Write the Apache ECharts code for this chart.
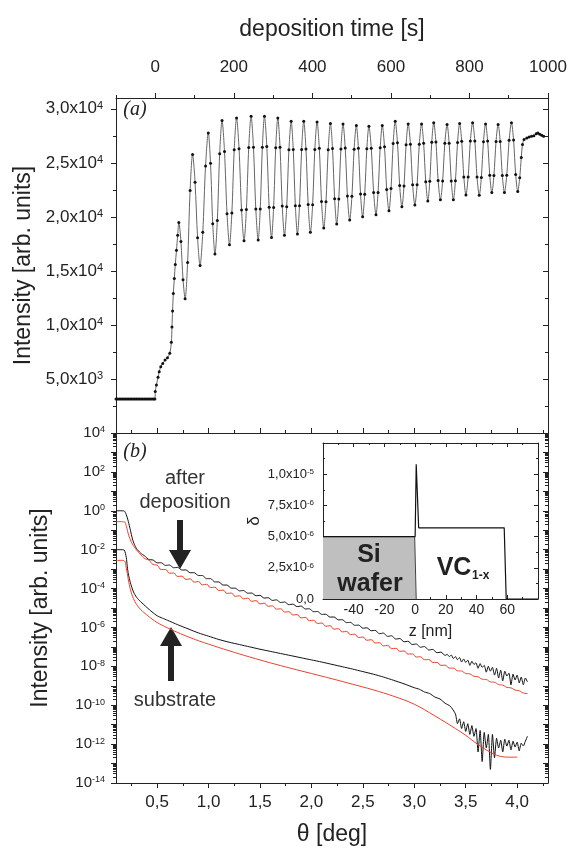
<!DOCTYPE html>
<html>
<head>
<meta charset="utf-8">
<script src="https://cdn.jsdelivr.net/npm/echarts@6/dist/echarts.min.js"></script>
<style>
html, body { margin: 0; padding: 0; background: #fff; }
#chart { width: 571px; height: 850px; }
</style>
</head>
<body>
<div id="chart"></div>
<script>
/***
Data
***/

// (a) intensity vs deposition time [s]
var baselinePts = [[-100,3150],[-96,3150],[-92,3150],[-88,3150],[-84,3150],[-80,3150],[-76,3150],[-72,3150],[-68,3150],[-64,3150],[-60,3150],[-56,3150],[-52,3150],[-48,3150],[-44,3150],[-40,3150],[-36,3150],[-32,3150],[-28,3150],[-24,3150],[-20,3150],[-16,3150],[-12,3150],[-8,3150],[-4,3150],[-1,3150]];
var onsetPts = [[0,3830],[3,4450],[7,5160],[10,5670],[14,6130],[19,6440],[25,6750],[31,6960],[37,7370],[41,8400],[42.5,9800],[44,11300],[46,12900],[48.5,14300],[51,15600],[54,16900],[57,18300]];
var oscillationPts = [
  [60,19480],[65.3,17720],[70.7,14190],[76,12430],
  [82.3,15770],[88.7,22440],[95,25780],[101.3,23210],[107.7,18070],[114,15500],
  [121,18570],[128,24700],[135,27770],[140.7,24970],[146.3,19370],[152,16570],
  [158,19660],[164,25830],[170,28910],[176.3,26040],[182.7,20300],[189,17430],
  [195,20360],[201,26220],[207,29150],[213.3,26310],[219.7,20640],[226,17800],
  [232,20680],[238,26430],[244,29310],[250,26450],[256,20730],[262,17870],
  [267.3,20730],[272.7,26450],[278,29310],[284,26510],[290,20900],[296,18100],
  [301.3,20860],[306.7,26390],[312,29150],[317.7,26440],[323.3,21010],[329,18300],
  [334.7,20940],[340.3,26210],[346,28850],[351.3,26240],[356.7,21030],[362,18420],
  [367.3,21030],[372.7,26240],[378,28850],[383.7,26280],[389.3,21140],[395,18570],
  [400.7,21130],[406.3,26240],[412,28790],[417.7,26340],[423.3,21430],[429,18970],
  [434.7,21390],[440.3,26220],[446,28640],[451.3,26320],[456.7,21670],[462,19340],
  [467.3,21660],[472.7,26290],[478,28600],[483.7,26380],[489.3,21930],[495,19710],
  [500.7,21900],[506.3,26260],[512,28450],[517.3,26340],[522.7,22120],[528,20010],
  [533.3,22100],[538.7,26300],[544,28390],[550,26340],[556,22250],[562,20200],
  [567.3,22260],[572.7,26390],[578,28450],[583.7,26480],[589.3,22530],[595,20560],
  [600.3,22630],[605.7,26780],[611,28850],[616.7,26870],[622.3,22910],[628,20930],
  [633.3,22850],[638.7,26680],[644,28600],[649.7,26730],[655.3,22980],[661,21110],
  [666.7,22980],[672.3,26730],[678,28600],[683.3,26820],[688.7,23260],[694,21480],
  [699,23290],[704,26900],[709,28700],[714.7,26920],[720.3,23360],[726,21580],
  [731.7,23320],[737.3,26810],[743,28550],[748.3,26810],[753.7,23320],[759,21580],
  [764.3,23350],[769.7,26880],[775,28640],[780.3,26990],[785.7,23680],[791,22030],
  [796.7,23700],[802.3,27030],[808,28700],[813.7,27030],[819.3,23680],[825,22000],
  [830.3,23650],[835.7,26950],[841,28600],[846.3,27010],[851.7,23840],[857,22250],
  [862.3,23830],[867.7,26980],[873,28550],[878.3,26980],[883.7,23830],[889,22250],
  [895,23860],[901,27090],[907,28700],[912.3,27110],[917.7,23930],[923,22340]
];
var plateauPts = [[928,23630],[932,25500],[935,26700],[939,27160],[946,27310],[952,27400],[958,27450],[964,27500],[970,27700],[974,27770],[979,27650],[984,27560],[989,27460]];

// (b) reflectivity, theta [deg] vs log10(intensity)
var afterMeasured = [
  [0.10,0.00],[0.14,0.00],[0.18,-0.01],[0.20,-0.20],[0.22,-0.55],[0.24,-1.00],[0.26,-1.45],[0.28,-1.75],
  [0.30,-1.95],[0.34,-2.18],[0.38,-2.33],[0.42,-2.51],[0.46,-2.53],[0.50,-2.68],[0.54,-2.67],[0.58,-2.81],
  [0.62,-2.79],[0.66,-2.93],[0.70,-2.91],[0.74,-3.05],[0.78,-3.04],[0.82,-3.19],[0.86,-3.18],[0.90,-3.33],
  [0.94,-3.33],[0.98,-3.49],[1.02,-3.49],[1.06,-3.66],[1.10,-3.66],[1.14,-3.82],[1.18,-3.82],[1.22,-3.98],
  [1.26,-3.98],[1.30,-4.12],[1.34,-4.10],[1.38,-4.24],[1.42,-4.23],[1.46,-4.37],[1.50,-4.35],[1.54,-4.49],
  [1.58,-4.47],[1.62,-4.61],[1.66,-4.58],[1.70,-4.72],[1.74,-4.69],[1.78,-4.83],[1.82,-4.80],[1.86,-4.93],
  [1.90,-4.90],[1.94,-5.05],[1.98,-5.04],[2.02,-5.19],[2.06,-5.18],[2.10,-5.33],[2.14,-5.32],[2.18,-5.47],
  [2.22,-5.46],[2.26,-5.61],[2.30,-5.60],[2.34,-5.75],[2.38,-5.74],[2.42,-5.89],[2.46,-5.88],[2.50,-6.04],
  [2.54,-6.02],[2.58,-6.17],[2.62,-6.15],[2.66,-6.32],[2.70,-6.29],[2.74,-6.46],[2.78,-6.43],[2.82,-6.60],
  [2.86,-6.57],[2.90,-6.74],[2.94,-6.71],[2.98,-6.88],[3.02,-6.85],[3.06,-7.02],[3.10,-6.98],[3.14,-7.16],
  [3.18,-7.13],[3.22,-7.30],[3.26,-7.27],[3.30,-7.44],[3.32,-7.38],[3.34,-7.50],[3.36,-7.42],[3.38,-7.60],
  [3.40,-7.50],[3.42,-7.66],[3.44,-7.55],[3.46,-7.78],[3.48,-7.62],[3.50,-7.80],[3.52,-7.68],[3.54,-7.95],
  [3.56,-7.74],[3.58,-7.90],[3.60,-7.82],[3.62,-8.10],[3.64,-7.86],[3.66,-8.05],[3.68,-7.95],[3.70,-8.30],
  [3.72,-8.00],[3.74,-8.25],[3.76,-8.05],[3.78,-8.45],[3.80,-8.10],[3.82,-8.60],[3.84,-8.20],[3.86,-8.75],
  [3.88,-8.25],[3.90,-8.50],[3.92,-8.35],[3.94,-8.95],[3.96,-8.40],[3.98,-8.70],[4.00,-8.45],[4.02,-8.85],
  [4.04,-8.55],[4.06,-8.95],[4.08,-8.60],[4.10,-8.80]
];
var afterFit = [
  [0.10,-0.56],[0.14,-0.56],[0.18,-0.57],[0.20,-0.80],[0.22,-1.20],[0.24,-1.50],[0.26,-1.72],[0.28,-1.88],
  [0.30,-2.02],[0.34,-2.26],[0.38,-2.46],[0.42,-2.54],[0.46,-2.76],[0.50,-2.80],[0.54,-3.02],[0.58,-3.02],
  [0.62,-3.21],[0.66,-3.20],[0.70,-3.38],[0.74,-3.36],[0.78,-3.53],[0.82,-3.50],[0.86,-3.67],[0.90,-3.64],
  [0.94,-3.81],[0.98,-3.78],[1.02,-3.95],[1.06,-3.93],[1.10,-4.10],[1.14,-4.08],[1.18,-4.25],[1.22,-4.23],
  [1.26,-4.40],[1.30,-4.37],[1.34,-4.53],[1.38,-4.49],[1.42,-4.66],[1.46,-4.62],[1.50,-4.79],[1.54,-4.75],
  [1.58,-4.91],[1.62,-4.89],[1.66,-5.06],[1.70,-5.04],[1.74,-5.21],[1.78,-5.19],[1.82,-5.36],[1.86,-5.34],
  [1.90,-5.51],[1.94,-5.48],[1.98,-5.65],[2.02,-5.63],[2.06,-5.80],[2.10,-5.77],[2.14,-5.94],[2.18,-5.91],
  [2.22,-6.09],[2.26,-6.06],[2.30,-6.23],[2.34,-6.20],[2.38,-6.37],[2.42,-6.35],[2.46,-6.52],[2.50,-6.49],
  [2.54,-6.66],[2.58,-6.63],[2.62,-6.80],[2.66,-6.78],[2.70,-6.95],[2.74,-6.92],[2.78,-7.09],[2.82,-7.07],
  [2.86,-7.23],[2.90,-7.21],[2.94,-7.37],[2.98,-7.36],[3.02,-7.52],[3.06,-7.51],[3.10,-7.66],[3.14,-7.65],
  [3.18,-7.80],[3.22,-7.80],[3.26,-7.95],[3.30,-7.94],[3.34,-8.09],[3.38,-8.09],[3.42,-8.23],[3.46,-8.24],
  [3.50,-8.37],[3.54,-8.39],[3.58,-8.51],[3.62,-8.54],[3.66,-8.66],[3.70,-8.68],[3.74,-8.80],[3.78,-8.82],
  [3.82,-8.94],[3.86,-8.97],[3.90,-9.08],[3.94,-9.11],[3.98,-9.22],[4.02,-9.26],[4.06,-9.37],[4.10,-9.40]
];
var substrateMeasured = [
  [0.10,-2.00],[0.14,-2.00],[0.18,-2.02],[0.20,-2.40],[0.21,-2.88],[0.22,-3.25],[0.24,-3.70],[0.27,-4.18],
  [0.30,-4.45],[0.34,-4.68],[0.40,-4.97],[0.45,-5.20],[0.50,-5.40],[0.55,-5.52],[0.60,-5.63],[0.70,-5.86],
  [0.80,-6.07],[0.90,-6.28],[1.00,-6.45],[1.10,-6.62],[1.20,-6.76],[1.30,-6.88],[1.40,-7.00],[1.50,-7.12],
  [1.60,-7.23],[1.70,-7.34],[1.80,-7.45],[1.90,-7.56],[2.00,-7.67],[2.10,-7.78],[2.20,-7.90],[2.30,-8.02],
  [2.40,-8.14],[2.50,-8.27],[2.60,-8.40],[2.70,-8.55],[2.80,-8.72],[2.90,-8.90],[3.00,-9.10],[3.05,-9.18],
  [3.10,-9.32],[3.15,-9.40],[3.20,-9.58],[3.25,-9.68],[3.30,-9.90],[3.35,-10.05],[3.40,-10.45],[3.42,-10.95],
  [3.44,-10.70],[3.46,-11.20],[3.48,-10.85],[3.50,-11.35],[3.52,-10.95],[3.54,-11.50],[3.56,-11.05],[3.58,-11.60],
  [3.60,-11.20],[3.62,-12.40],[3.64,-11.30],[3.66,-12.90],[3.68,-11.40],[3.70,-12.20],[3.72,-11.50],[3.74,-13.30],
  [3.76,-11.50],[3.78,-12.70],[3.80,-11.70],[3.82,-12.20],[3.84,-11.80],[3.86,-12.40],[3.88,-11.75],[3.90,-12.10],
  [3.92,-11.80],[3.94,-12.30],[3.96,-11.85],[3.98,-12.15],[4.00,-11.90],[4.02,-12.35],[4.04,-11.95],[4.06,-12.10],
  [4.08,-11.85],[4.10,-11.60]
];
var substrateFit = [
  [0.10,-2.55],[0.14,-2.55],[0.18,-2.57],[0.20,-2.95],[0.22,-3.55],[0.24,-4.05],[0.27,-4.52],[0.30,-4.82],
  [0.34,-5.08],[0.40,-5.36],[0.45,-5.57],[0.50,-5.75],[0.60,-6.02],[0.70,-6.26],[0.80,-6.48],[0.90,-6.68],
  [1.00,-6.86],[1.20,-7.20],[1.40,-7.52],[1.60,-7.82],[1.80,-8.10],[2.00,-8.37],[2.20,-8.64],[2.40,-8.92],
  [2.60,-9.21],[2.80,-9.54],[3.00,-9.95],[3.20,-10.55],[3.40,-11.20],[3.50,-11.55],[3.60,-11.95],[3.70,-12.30],
  [3.80,-12.57],[3.85,-12.64],[3.90,-12.67],[4.00,-12.67]
];

// inset: dispersion profile delta vs z [nm]
var profileZ = [-60, 0, 0.7, 2.3, 58, 59.3, 80];
var profileDelta = [5.0e-6, 5.0e-6, 1.08e-5, 5.7e-6, 5.7e-6, 0, 0];
var waferZ = [-60, -0.3, 0.7];
var waferDelta = [5.0e-6, 5.0e-6, 0];

// tick positions
var timeMajor = [0, 200, 400, 600, 800, 1000];
var timeMinor = [-100, 100, 300, 500, 700, 900];
var countsMajor = [0, 5000, 10000, 15000, 20000, 25000, 30000];
var countsMinor = [2500, 7500, 12500, 17500, 22500, 27500];
var thetaMajor = [0.5, 1.0, 1.5, 2.0, 2.5, 3.0, 3.5, 4.0];
var thetaMinor = [0.25, 0.75, 1.25, 1.75, 2.25, 2.75, 3.25, 3.75, 4.25];
var decadeLabels = [-14, -12, -10, -8, -6, -4, -2, 0, 2, 4];
var zMajor = [-60, -40, -20, 0, 20, 40, 60, 80];
var zMinor = [-50, -30, -10, 10, 30, 50, 70];
var zLabels = [-40, -20, 0, 20, 40, 60];
var deltaMajor = [0, 2.5e-6, 5.0e-6, 7.5e-6, 1.0e-5, 1.25e-5];
var deltaMinor = [1.25e-6, 3.75e-6, 6.25e-6, 8.75e-6, 1.125e-5];

var SANS = '"Liberation Sans", Arial, Helvetica, sans-serif';
var SERIF = '"Liberation Serif", "DejaVu Serif", serif';
var INK = '#222';
var RED = '#e8432d';

// every decade and the 2..9 log steps between them
var decades = [], decadeMinor = [];
for (var n = -14; n <= 4; n++) {
    decades.push(n);
    if (n < 4) {
        for (var k = 2; k <= 9; k++) decadeMinor.push(n + Math.log10(k));
    }
}

function zip(xs, ys) {
    return xs.map(function (x, i) { return [x, ys[i]]; });
}

function comma(v) {
    return v.toFixed(1).replace('.', ',');
}

function sciLabel(v) {
    if (Math.abs(v) < 1e-20) return '{m|0,0}';
    var e = Math.floor(Math.log10(v) + 1e-9);
    return '{m|' + comma(v / Math.pow(10, e)) + 'x10}{e|' + e + '}';
}

function supRich(size) {
    return {
        m: { fontSize: size, fontFamily: SANS, color: INK },
        e: { fontSize: Math.round(size * 0.62), fontFamily: SANS, color: INK, verticalAlign: 'top' }
    };
}

// a plain axis that only draws ticks (and optionally its line)
function axis(gridIndex, position, min, max, ticks, len, inside, showLine) {
    return {
        type: 'value', gridIndex: gridIndex, position: position, min: min, max: max,
        axisLine: { show: !!showLine, onZero: false, lineStyle: { color: INK, width: 1 } },
        axisTick: { show: true, customValues: ticks, length: len, inside: !!inside, lineStyle: { color: INK, width: 1 } },
        axisLabel: { show: false },
        splitLine: { show: false }
    };
}

var xTime = axis(0, 'top', -100, 1000, timeMajor, 5, false, true);
xTime.axisLabel = { show: true, customValues: timeMajor, margin: 22, fontSize: 17, fontFamily: SANS, color: INK,
    formatter: function (v) { return String(v); } };
xTime.name = 'deposition time [s]';
xTime.nameLocation = 'middle';
xTime.nameGap = 57;
xTime.nameTextStyle = { fontSize: 23, fontFamily: SANS, color: INK };

var xTheta = axis(1, 'bottom', 0.1, 4.3, thetaMajor, 5, false, true);
xTheta.axisLabel = { show: true, customValues: thetaMajor, margin: 11, fontSize: 17, fontFamily: SANS, color: INK,
    formatter: function (v) { return comma(v); } };
xTheta.name = '\u03b8 [deg]';
xTheta.nameLocation = 'middle';
xTheta.nameGap = 40;
xTheta.nameTextStyle = { fontSize: 23, fontFamily: SANS, color: INK };

var xZ = axis(2, 'bottom', -60, 80, zMajor, 4, true, true);
xZ.axisLabel = { show: true, customValues: zLabels, margin: 4, fontSize: 14, fontFamily: SANS, color: INK,
    formatter: function (v) { return String(v); } };
xZ.name = 'z [nm]';
xZ.nameLocation = 'middle';
xZ.nameGap = 25;
xZ.nameTextStyle = { fontSize: 16, fontFamily: SANS, color: INK };

var yCounts = axis(0, 'left', 0, 31000, countsMajor, 5, false, true);
yCounts.axisLabel = { show: true, customValues: countsMajor.slice(1), margin: 13,
    formatter: sciLabel, rich: supRich(17) };
yCounts.name = 'Intensity [arb. units]';
yCounts.nameLocation = 'middle';
yCounts.nameGap = 80;
yCounts.nameTextStyle = { fontSize: 23, fontFamily: SANS, color: INK };

var yLog = axis(1, 'left', -14, 4, decades, 5, false, true);
yLog.axisLabel = { show: true, customValues: decadeLabels, margin: 11,
    formatter: function (v) { return '{m|10}{e|' + v + '}'; }, rich: supRich(15) };
yLog.name = 'Intensity [arb. units]';
yLog.nameLocation = 'middle';
yLog.nameGap = 64;
yLog.nameTextStyle = { fontSize: 23, fontFamily: SANS, color: INK };

var yDelta = axis(2, 'left', 0, 1.25e-5, deltaMajor, 4, true, true);
yDelta.axisLabel = { show: true, customValues: deltaMajor.slice(0, 5), margin: 9,
    formatter: sciLabel, rich: supRich(13) };
yDelta.name = '\u03b4';
yDelta.nameLocation = 'middle';
yDelta.nameGap = 60;
yDelta.nameTextStyle = { fontSize: 17, fontFamily: SANS, color: INK };

var option = {
    animation: false,
    backgroundColor: '#fff',
    grid: [
        { left: 116, top: 98, width: 432, height: 335, outerBoundsMode: 'none' },
        { left: 116, top: 433, width: 432, height: 350, outerBoundsMode: 'none' },
        { left: 323, top: 443, width: 215, height: 156, outerBoundsMode: 'none',
          show: true, backgroundColor: '#fff', borderWidth: 0 }
    ],
    xAxis: [
        xTime,
        axis(0, 'top', -100, 1000, timeMinor, 3, false, false),
        xTheta,
        axis(1, 'bottom', 0.1, 4.3, thetaMinor, 3, false, false),
        axis(1, 'top', 0.1, 4.3, thetaMajor, 5, false, true),
        axis(1, 'top', 0.1, 4.3, thetaMinor, 3, false, false),
        xZ,
        axis(2, 'bottom', -60, 80, zMinor, 2, true, false),
        axis(2, 'top', -60, 80, zMajor, 4, true, true),
        axis(2, 'top', -60, 80, zMinor, 2, true, false)
    ],
    yAxis: [
        yCounts,
        axis(0, 'left', 0, 31000, countsMinor, 3, false, false),
        axis(0, 'right', 0, 31000, countsMajor, 5, true, true),
        axis(0, 'right', 0, 31000, countsMinor, 3, true, false),
        yLog,
        axis(1, 'left', -14, 4, decadeMinor, 3, false, false),
        axis(1, 'right', -14, 4, decades, 5, true, true),
        axis(1, 'right', -14, 4, decadeMinor, 3, true, false),
        yDelta,
        axis(2, 'left', 0, 1.25e-5, deltaMinor, 2, true, false),
        axis(2, 'right', 0, 1.25e-5, deltaMajor, 4, true, true),
        axis(2, 'right', 0, 1.25e-5, deltaMinor, 2, true, false)
    ],
    series: [
        {
            type: 'line', xAxisIndex: 0, yAxisIndex: 0,
            data: baselinePts.concat(onsetPts, oscillationPts, plateauPts),
            smooth: 0.3,
            symbol: 'circle', symbolSize: 3,
            itemStyle: { color: '#111' },
            lineStyle: { color: '#666', width: 1 }
        },
        {
            type: 'line', xAxisIndex: 2, yAxisIndex: 4, data: afterMeasured,
            smooth: 0.2, showSymbol: false,
            lineStyle: { color: '#111', width: 1 }
        },
        {
            type: 'line', xAxisIndex: 2, yAxisIndex: 4, data: afterFit,
            smooth: 0.5, showSymbol: false,
            lineStyle: { color: RED, width: 1 }
        },
        {
            type: 'line', xAxisIndex: 2, yAxisIndex: 4, data: substrateMeasured,
            smooth: 0.2, showSymbol: false,
            lineStyle: { color: '#111', width: 1 }
        },
        {
            type: 'line', xAxisIndex: 2, yAxisIndex: 4, data: substrateFit,
            smooth: 0.4, showSymbol: false,
            lineStyle: { color: RED, width: 1 }
        },
        {
            type: 'line', xAxisIndex: 6, yAxisIndex: 8, data: zip(waferZ, waferDelta),
            showSymbol: false,
            areaStyle: { color: '#bfbfbf', opacity: 1 },
            lineStyle: { color: '#444', width: 1 }
        },
        {
            type: 'line', xAxisIndex: 6, yAxisIndex: 8, data: zip(profileZ, profileDelta),
            showSymbol: false,
            lineStyle: { color: '#111', width: 1.2 }
        }
    ],
    graphic: [
        { type: 'text', x: 135, y: 110, style: { text: '(a)', fontSize: 20, fontFamily: SERIF, fontStyle: 'italic', fill: INK, align: 'center', verticalAlign: 'middle' } },
        { type: 'text', x: 135, y: 452, style: { text: '(b)', fontSize: 20, fontFamily: SERIF, fontStyle: 'italic', fill: INK, align: 'center', verticalAlign: 'middle' } },
        { type: 'text', x: 185, y: 478, style: { text: 'after', fontSize: 20, fontFamily: SANS, fill: '#333', align: 'center', verticalAlign: 'middle' } },
        { type: 'text', x: 185, y: 502, style: { text: 'deposition', fontSize: 20, fontFamily: SANS, fill: '#333', align: 'center', verticalAlign: 'middle' } },
        { type: 'text', x: 175, y: 700, style: { text: 'substrate', fontSize: 20, fontFamily: SANS, fill: '#333', align: 'center', verticalAlign: 'middle' } },
        // arrows
        { type: 'rect', shape: { x: 177, y: 520, width: 6, height: 32 }, style: { fill: INK } },
        { type: 'polygon', shape: { points: [[169, 550], [191, 550], [180, 569]] }, style: { fill: INK } },
        { type: 'rect', shape: { x: 168, y: 644, width: 6, height: 37 }, style: { fill: INK } },
        { type: 'polygon', shape: { points: [[160, 646], [182, 646], [171, 627]] }, style: { fill: INK } },
        // inset labels
        { type: 'text', x: 369, y: 555, z: 100, style: { text: 'Si', fontSize: 25, fontWeight: 'bold', fontFamily: SANS, fill: INK, align: 'center', verticalAlign: 'middle' } },
        { type: 'text', x: 370, y: 584, z: 100, style: { text: 'wafer', fontSize: 25, fontWeight: 'bold', fontFamily: SANS, fill: INK, align: 'center', verticalAlign: 'middle' } },
        { type: 'text', x: 454, y: 568, z: 100, style: { text: 'VC', fontSize: 25, fontWeight: 'bold', fontFamily: SANS, fill: INK, align: 'center', verticalAlign: 'middle' } },
        { type: 'text', x: 472, y: 576, z: 100, style: { text: '1-x', fontSize: 12, fontWeight: 'bold', fontFamily: SANS, fill: INK, align: 'left', verticalAlign: 'middle' } }
    ]
};

var chart = echarts.init(document.getElementById('chart'), null, { renderer: 'canvas' });
chart.setOption(option);
</script>
</body>
</html>
